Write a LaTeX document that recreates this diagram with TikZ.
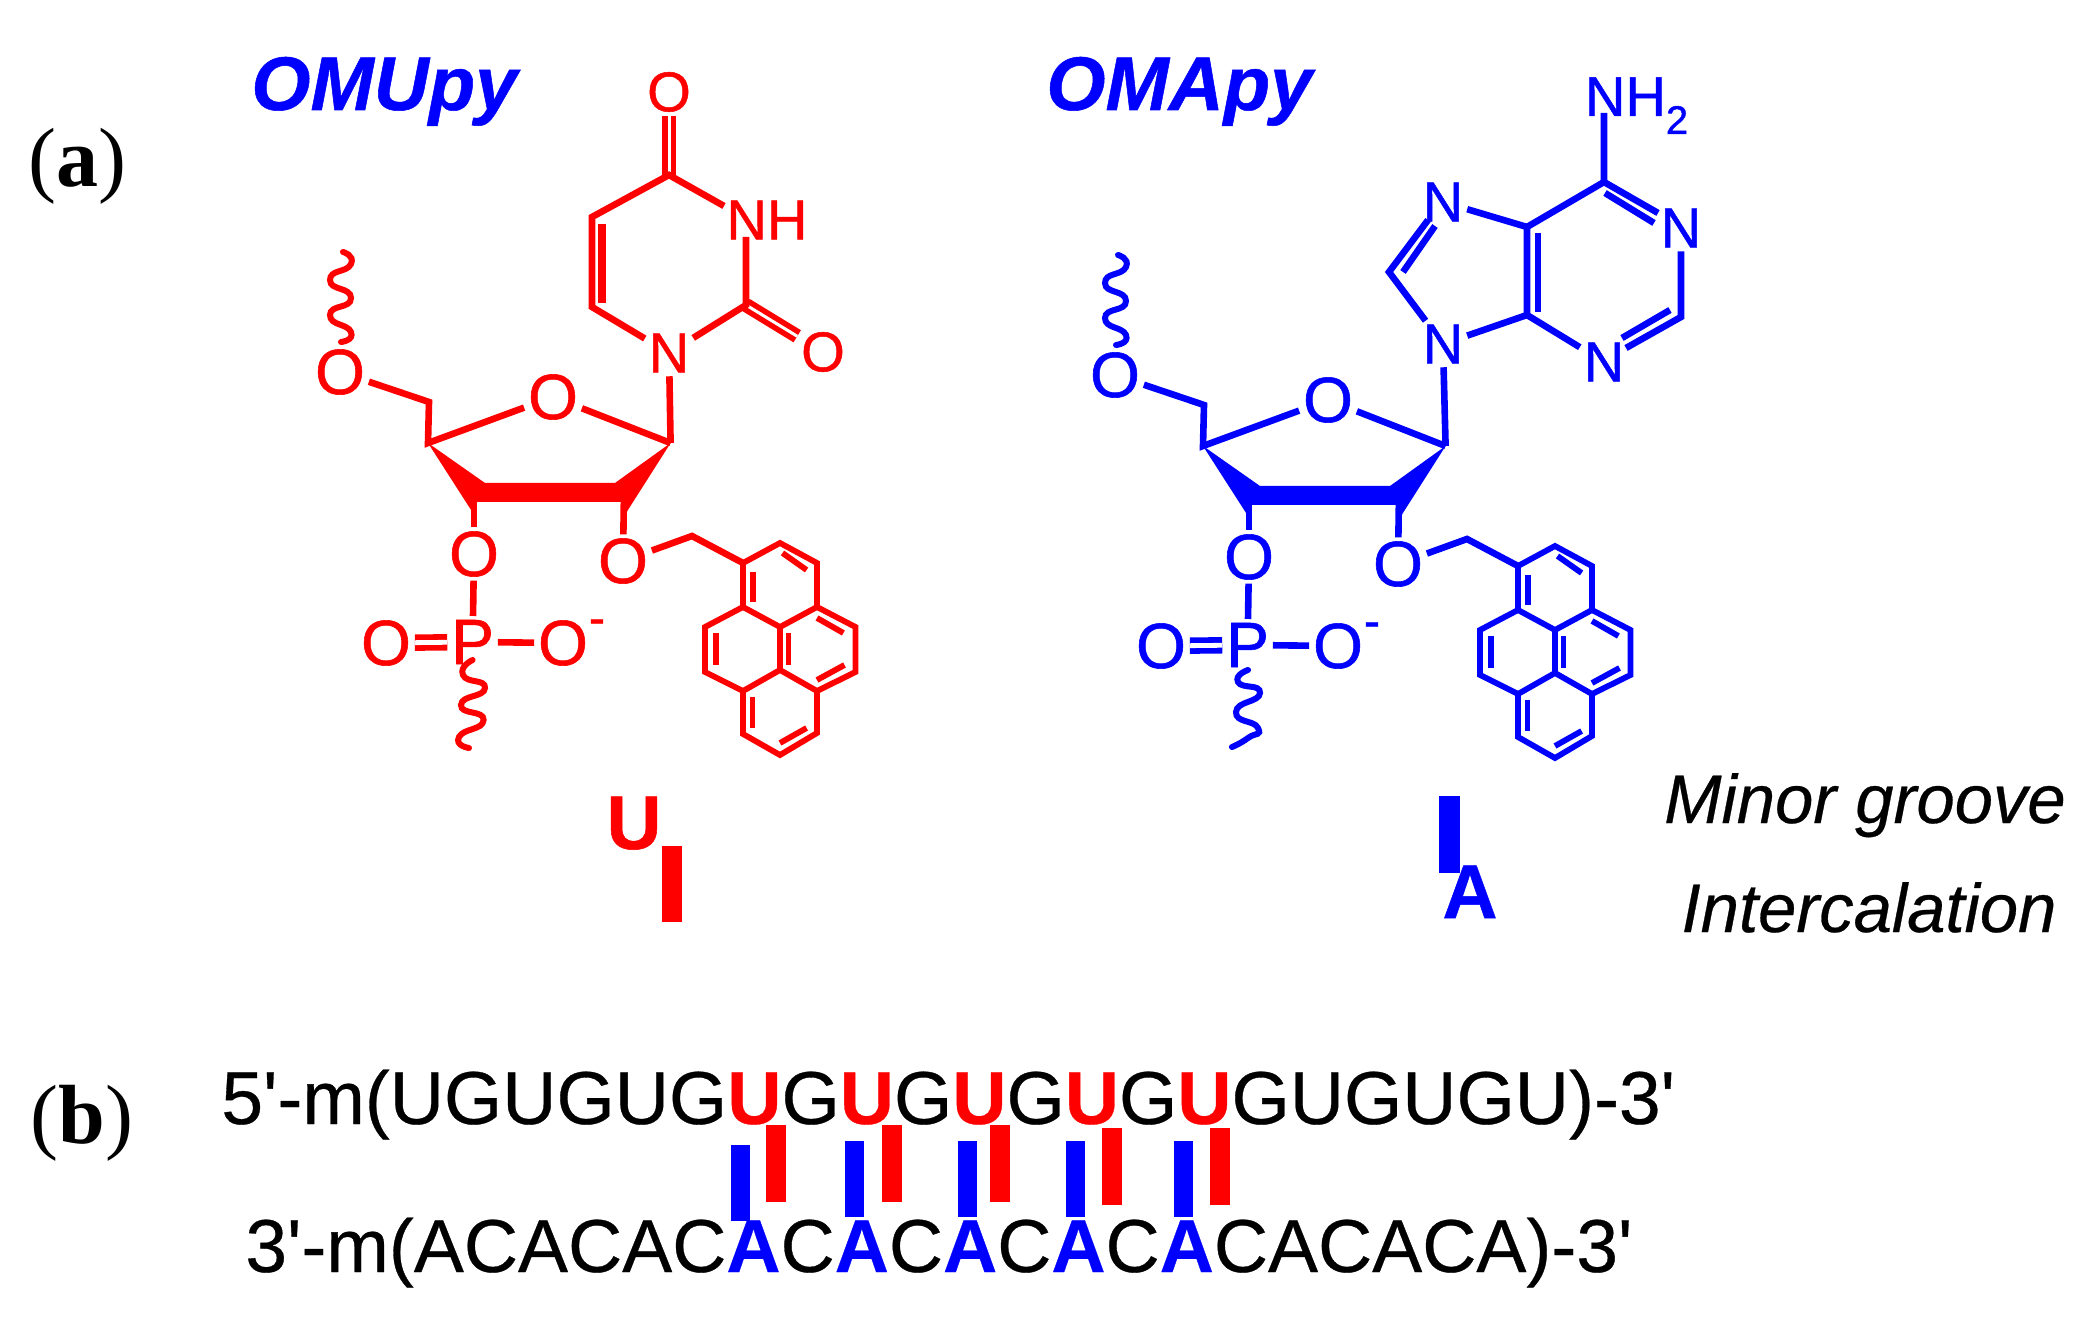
\documentclass[tikz,border=0pt]{standalone}
\usepackage{fontspec}
\setmainfont{Liberation Sans}
\newfontfamily\serifhead{Liberation Serif}
\newfontfamily\atomfont[FakeBold=0.9]{Liberation Sans}
\newfontfamily\seqfont[FakeBold=0.4]{Liberation Sans}
\newfontfamily\titlefont[FakeBold=0.7]{Liberation Sans}
\definecolor{pureblue}{RGB}{0,0,255}
\definecolor{purered}{RGB}{255,0,0}
\tikzset{
  bond/.style={line width=3.3pt,line join=miter},
  thinbond/.style={line width=2.9pt,line join=miter},
  dbl/.style={line width=2.8pt,double,double distance=1.5pt},
  dblwide/.style={line width=2.9pt,double,double distance=2.4pt},
  wave/.style={line width=3pt,line cap=round},
  atom/.style={font=\fontsize{28}{30}\selectfont\atomfont,inner sep=0pt,outer sep=2pt},
  bigatom/.style={font=\fontsize{32}{34}\selectfont\atomfont,inner sep=0pt,outer sep=2pt},
  title/.style={font=\fontsize{38}{40}\selectfont\titlefont\bfseries\itshape,text=pureblue,inner sep=0pt,anchor=base west},
  panel/.style={font=\fontsize{42}{44}\selectfont\serifhead,text=black,inner sep=0pt,anchor=base},
  note/.style={font=\fontsize{34.4}{36}\selectfont\seqfont\itshape,text=black,inner sep=0pt,anchor=base},
  seq/.style={font=\fontsize{37.5}{40}\selectfont\seqfont,text=black,inner sep=0pt,anchor=base west},
  glyph/.style={font=\fontsize{38}{40}\selectfont\titlefont\bfseries,inner sep=0pt,anchor=base},
}
% sugar, phosphate and pyrene, shared by both nucleotides
\newcommand{\sugarpart}[1]{%
  \foreach \n/\x/\y in {C5p/429/402,C4p/428/443,C1p/670.6/443,C3p/474/490,C2p/624/490,
    CH/692/536,a/743/563,b/780/543,c/817/563,d/817/607,e/855.5/627,f/855.5/672,
    g/817/691,h/817/733,i/780/755,j/743/734,k/743/691,l/705/672,m/705/627,
    n/743/607,o/780/627,p/780/670}
    \coordinate (\n) at (\x,\y);
  \node[bigatom] (O5) at (340,372) {O};
  \node[bigatom] (O4) at (553,397) {O};
  \node[bigatom] (O3) at (474,554) {O};
  \node[bigatom] (O2) at (623,561) {O};
  \node[bigatom] (P) at (472.6,642) {P};
  \node[bigatom] (Od) at (386,643) {O};
  \node[bigatom] (Om) at (563,643) {O};
  \node[inner sep=0pt,font=\fontsize{24}{26}\selectfont\atomfont] (minus) at (597,627) {-};
  \draw[dblwide] (Od) -- (P);
  \draw[bond] (O5) -- (C5p) -- (C4p) -- (O4);
  \draw[bond] (O4) -- (C1p);
  \draw[bond] (C3p) -- (O3);
  \draw[bond] (C2p) -- (O2);
  \draw[bond] (O3) -- (P);
  \draw[bond] (P) -- (Om);
  \fill[line join=round] (C4p) -- (485,483) -- (615,483) -- (C1p) -- (626,513) -- (624,502)
     -- (476,502) -- (473,513) -- cycle;
  \draw[bond] (O2) -- (CH) -- (a);
  \draw[thinbond] (a) -- (b) -- (c) -- (d) -- (e) -- (f) -- (g) -- (h) -- (i) -- (j) -- (k) -- (l) -- (m) -- (n) -- cycle;
  \draw[thinbond] (n) -- (o) -- (d);
  \draw[thinbond] (k) -- (p) -- (g);
  \draw[thinbond] (o) -- (p);
  \draw[thinbond] (753,572) -- (753,602);
  \draw[thinbond] (782.5,553) -- (806.6,570);
  \draw[thinbond] (817,618) -- (843.4,633);
  \draw[thinbond] (844.5,665) -- (817,680);
  \draw[thinbond] (788.4,633) -- (788.4,665);
  \draw[thinbond] (716,633) -- (716,665);
  \draw[thinbond] (752.5,697) -- (752.5,728);
  \draw[thinbond] (806.6,728) -- (780,743);
  \draw[wave] plot[smooth,tension=1.15] coordinates {(343,252) (351,264) (330,280) (351,298) (330,315) (351,332) (341,342)};
  \draw[wave] plot[smooth,tension=1.15] coordinates {#1};
}
\begin{document}
\begin{tikzpicture}[x=0.5pt,y=-0.5pt]
\useasboundingbox (0,0) rectangle (2100,1320);
% titles and panel letters
\node[title] (t1) at (251,110) {OMUpy};
\node[title] (t2) at (1046,110) {OMApy};
\node[panel] (pa) at (77.5,187) {(\textbf{a})};
\node[panel] (pb) at (82,1143) {(\textbf{b})};
\node[note] (n1) at (1865,823) {Minor groove};
\node[note] (n2) at (1869,932) {Intercalation};
% OMUpy
\begin{scope}[name prefix=r-,color=purered]
  \sugarpart{(472.6,660) (463,675) (485,688) (461,705) (483.6,720) (459,737) (469,748)}
\end{scope}
\begin{scope}[color=purered]
  \foreach \n/\x/\y in {C4/669/175,C5/592/217,C6/592/307,C2/746/305,N3a/724/206,N3b/746/237}
    \coordinate (U\n) at (\x,\y);
  \node[atom] (UO4) at (669,92) {O};
  \node[atom] (UN3) at (767,220) {NH};
  \node[atom] (UN1) at (669,353) {N};
  \node[atom] (UO2) at (823,352) {O};
  \draw[dbl] (UO4) -- (UC4);
  \draw[dbl] (UC2) -- (UO2);
  \draw[bond] (UN1) -- (UC6) -- (UC5) -- (UC4) -- (UN3a);
  \draw[bond] (UN3b) -- (UC2) -- (UN1);
  \draw[bond] (UN1) -- (r-C1p);
  \draw[line width=3.8pt] (602,224) -- (602,303);
\end{scope}
% OMApy
\begin{scope}[shift={(775,3)},name prefix=b-,color=pureblue]
  \sugarpart{(473,667) (463,679) (485,690) (461,709) (483,725) (473,735) (457,744)}
\end{scope}
\begin{scope}[color=pureblue]
  \foreach \n/\x/\y in {C6/1604/182,C5/1527/227,C4/1527/315,C8/1389/272,C2/1681/317,
     NHe/1604/113,N7e/1428/220,N1e/1658/213,N3e/1626/348}
    \coordinate (A\n) at (\x,\y);
  \node[atom,anchor=base west] (ANH) at (1581,116) {NH\raisebox{-0.32em}{\fontsize{20}{20}\selectfont 2}};
  \node[atom] (AN7) at (1443,202) {N};
  \node[atom] (AN9) at (1443,344) {N};
  \node[atom] (AN1) at (1681,228) {N};
  \node[atom] (AN3) at (1604,362) {N};
  \draw[bond] (ANHe) -- (AC6) -- (AC5) -- (AC4) -- (AN9);
  \draw[bond] (AC5) -- (AN7);
  \draw[bond] (AN7e) -- (AC8) -- (AN9);
  \draw[bond] (AC4) -- (AN3);
  \draw[bond] (AN1) -- (AC2) -- (AN3e);
  \draw[bond] (AC6) -- (AN1e);
  \draw[bond] (AN9) -- (b-C1p);
  \draw[bond] (1538,233) -- (1538,312);
  \draw[bond] (1403,272) -- (1435,226);
  \draw[bond] (1605,193) -- (1654,223);
  \draw[bond] (1670,310) -- (1622,338);
\end{scope}
% single-letter symbols
\node[glyph,text=purered] (su) at (634,849) {U};
\fill[purered] (662,846) rectangle (682,922);
\fill[pureblue] (1439,796) rectangle (1460,873);
\node[glyph,text=pureblue] (sa) at (1470,918) {A};
% sequences
\newcommand{\ru}{\textcolor{purered}{\textbf{U}}}
\newcommand{\ba}{\textcolor{pureblue}{\textbf{A}}}
\node[seq] (s5) at (221,1124) {5'-m(UGUGUG\ru G\ru G\ru G\ru G\ru GUGUGU)-3'};
\node[seq] (s3) at (245,1272) {3'-m(ACACAC\ba C\ba C\ba C\ba C\ba CACACA)-3'};
% pairing bars
\foreach \x/\y in {766/1125,882/1125,989.5/1125,1101.5/1128,1210/1128}
  \fill[purered] (\x,\y) rectangle ++(20,77);
\foreach \x/\y in {730.5/1145,845/1141,958/1141,1066/1141,1174/1141}
  \fill[pureblue] (\x,\y) rectangle ++(19,76);
\end{tikzpicture}
\end{document}
